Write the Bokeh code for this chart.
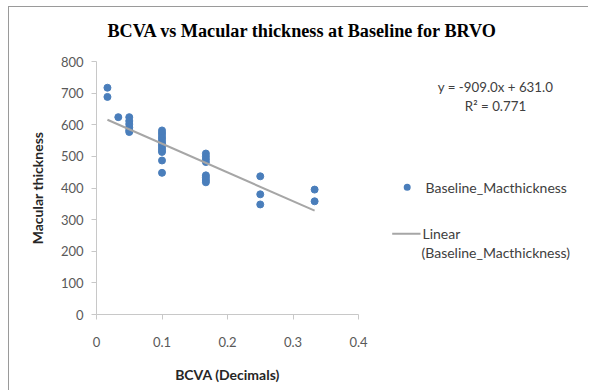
from bokeh.plotting import figure
from bokeh.layouts import column, row
from bokeh.models import Range1d, FixedTicker, Label, BoxAnnotation, ColumnDataSource
from bokeh.embed import file_html
from bokeh.resources import INLINE

# ---- data ----
bcva = [0.0167, 0.0167, 0.0333,
        0.05, 0.05, 0.05, 0.05, 0.05, 0.05,
        0.1, 0.1, 0.1, 0.1, 0.1, 0.1, 0.1, 0.1, 0.1, 0.1, 0.1, 0.1,
        0.167, 0.167, 0.167, 0.167, 0.167, 0.167, 0.167, 0.167,
        0.25, 0.25, 0.25,
        0.333, 0.333]
mac_thickness = [717, 688, 624,
                 624, 612, 602, 592, 583, 577,
                 582, 574, 566, 558, 550, 542, 535, 528, 521, 514, 487, 448,
                 509, 500, 491, 482, 440, 433, 425, 418,
                 437, 380, 348,
                 395, 358]
trend_slope = -909.0
trend_intercept = 631.0
r_squared = 0.771
x_ticks = [0, 0.1, 0.2, 0.3, 0.4]
x_tick_labels = ["0", "0.1", "0.2", "0.3", "0.4"]
y_ticks = [0, 100, 200, 300, 400, 500, 600, 700, 800]

title_text = "BCVA vs Macular thickness at Baseline for BRVO"
series_name = "Baseline_Macthickness"
x_title = "BCVA (Decimals)"
y_title = "Macular thickness"

FONT = "Lato"
BLUE = "#4a7ebb"
TREND = "#a6a6a6"
TXT = "#404040"

# layout geometry (page pixels); layout origin at (9, 7)
OX, OY = 9, 7
TOTAL_W, TOTAL_H = 580, 384
TOP_H = 41
MAIN_W = 376
SIDE_W = TOTAL_W - MAIN_W
BODY_H = TOTAL_H - TOP_H
B_LEFT, B_RIGHT, B_TOP, B_BOTTOM = 87, 27, 13, 77
FRAME_TOP = OY + TOP_H + B_TOP
FRAME_BOTTOM = OY + TOTAL_H - B_BOTTOM

# ---- title strip (ranges expressed in page pixels) ----
t = figure(width=TOTAL_W, height=TOP_H, output_backend="svg", toolbar_location=None,
           x_range=Range1d(OX, OX + TOTAL_W), y_range=Range1d(OY + TOP_H, OY),
           x_axis_type=None, y_axis_type=None,
           min_border_left=0, min_border_right=0, min_border_top=0, min_border_bottom=0)
t.outline_line_color = None
t.grid.visible = False
t.add_layout(Label(x=302, y=30.7, text=title_text, text_align="center",
                   text_baseline="middle", text_font="Liberation Serif",
                   text_font_style="bold", text_font_size="18.2px", text_color="black"))

# ---- main chart ----
p = figure(width=MAIN_W, height=BODY_H, output_backend="svg", toolbar_location=None,
           x_range=Range1d(0, 0.4), y_range=Range1d(0, 800),
           min_border_left=B_LEFT, min_border_right=B_RIGHT,
           min_border_top=B_TOP, min_border_bottom=B_BOTTOM)
p.outline_line_color = None
p.grid.visible = False

src = ColumnDataSource(dict(x=bcva, y=mac_thickness))
p.scatter("x", "y", source=src, size=7, color=BLUE, line_color=BLUE)

tx = [min(bcva), max(bcva)]
ty = [trend_slope * v + trend_intercept for v in tx]
p.line(tx, ty, line_color=TREND, line_width=2)

for ax in (p.xaxis[0], p.yaxis[0]):
    ax.axis_line_color = "#c8c8c8"
    ax.major_tick_line_color = "#c8c8c8"
    ax.major_tick_out = 5
    ax.major_tick_in = 0
    ax.minor_tick_line_color = None
    ax.major_label_text_font = FONT
    ax.major_label_text_font_size = "13px"
    ax.major_label_text_color = "#595959"
    ax.axis_label_text_font = FONT
    ax.axis_label_text_font_size = "14px"
    ax.axis_label_text_font_style = "bold"
    ax.axis_label_text_color = "#262626"

p.xaxis.ticker = FixedTicker(ticks=x_ticks)
p.xaxis.major_label_overrides = {t_: l for t_, l in zip(x_ticks, x_tick_labels)}
p.yaxis.ticker = FixedTicker(ticks=y_ticks)
p.xaxis.axis_label = x_title
p.yaxis.axis_label = y_title
p.xaxis.major_label_standoff = 17
p.xaxis.axis_label_standoff = 16
p.yaxis.major_label_standoff = 8
p.yaxis.axis_label_standoff = 12

# ---- side panel: equation + legend (ranges expressed in page pixels) ----
SX = OX + MAIN_W
s = figure(width=SIDE_W, height=BODY_H, output_backend="svg", toolbar_location=None,
           x_range=Range1d(SX, SX + SIDE_W), y_range=Range1d(FRAME_BOTTOM, FRAME_TOP),
           x_axis_type=None, y_axis_type=None,
           min_border_left=0, min_border_right=0,
           min_border_top=B_TOP, min_border_bottom=B_BOTTOM)
s.outline_line_color = None
s.grid.visible = False


def lab(px, py, text, align="left", size="14px"):
    s.add_layout(Label(x=px, y=py, text=text, text_align=align,
                       text_baseline="middle", text_font=FONT,
                       text_font_size=size, text_color=TXT))


lab(495, 86.7, f"y = {trend_slope:.1f}x + {trend_intercept:.1f}", "center", "13.3px")
lab(495, 105, f"R² = {r_squared}", "center", "13.3px")
lab(425, 186.7, series_name)
lab(422, 233.3, "Linear")
lab(421, 251.7, f"({series_name})")

# legend keys
mk_r = 3.5
s.add_layout(BoxAnnotation(left=406.7 - mk_r, right=406.7 + mk_r,
                           top=186.7 - mk_r, bottom=186.7 + mk_r,
                           fill_color=BLUE, fill_alpha=1, line_color=None,
                           border_radius=4))
s.add_layout(BoxAnnotation(left=391.7, right=420,
                           top=233.3 - 1, bottom=233.3 + 1,
                           fill_color=TREND, fill_alpha=1, line_color=None))

layout = column(t, row(p, s), margin=(OY, 0, 0, OX))
layout.styles = {"box-shadow": "-1px -1px 0 0 #9a9a9a"}

open("out.html", "w").write(file_html(layout, INLINE))
